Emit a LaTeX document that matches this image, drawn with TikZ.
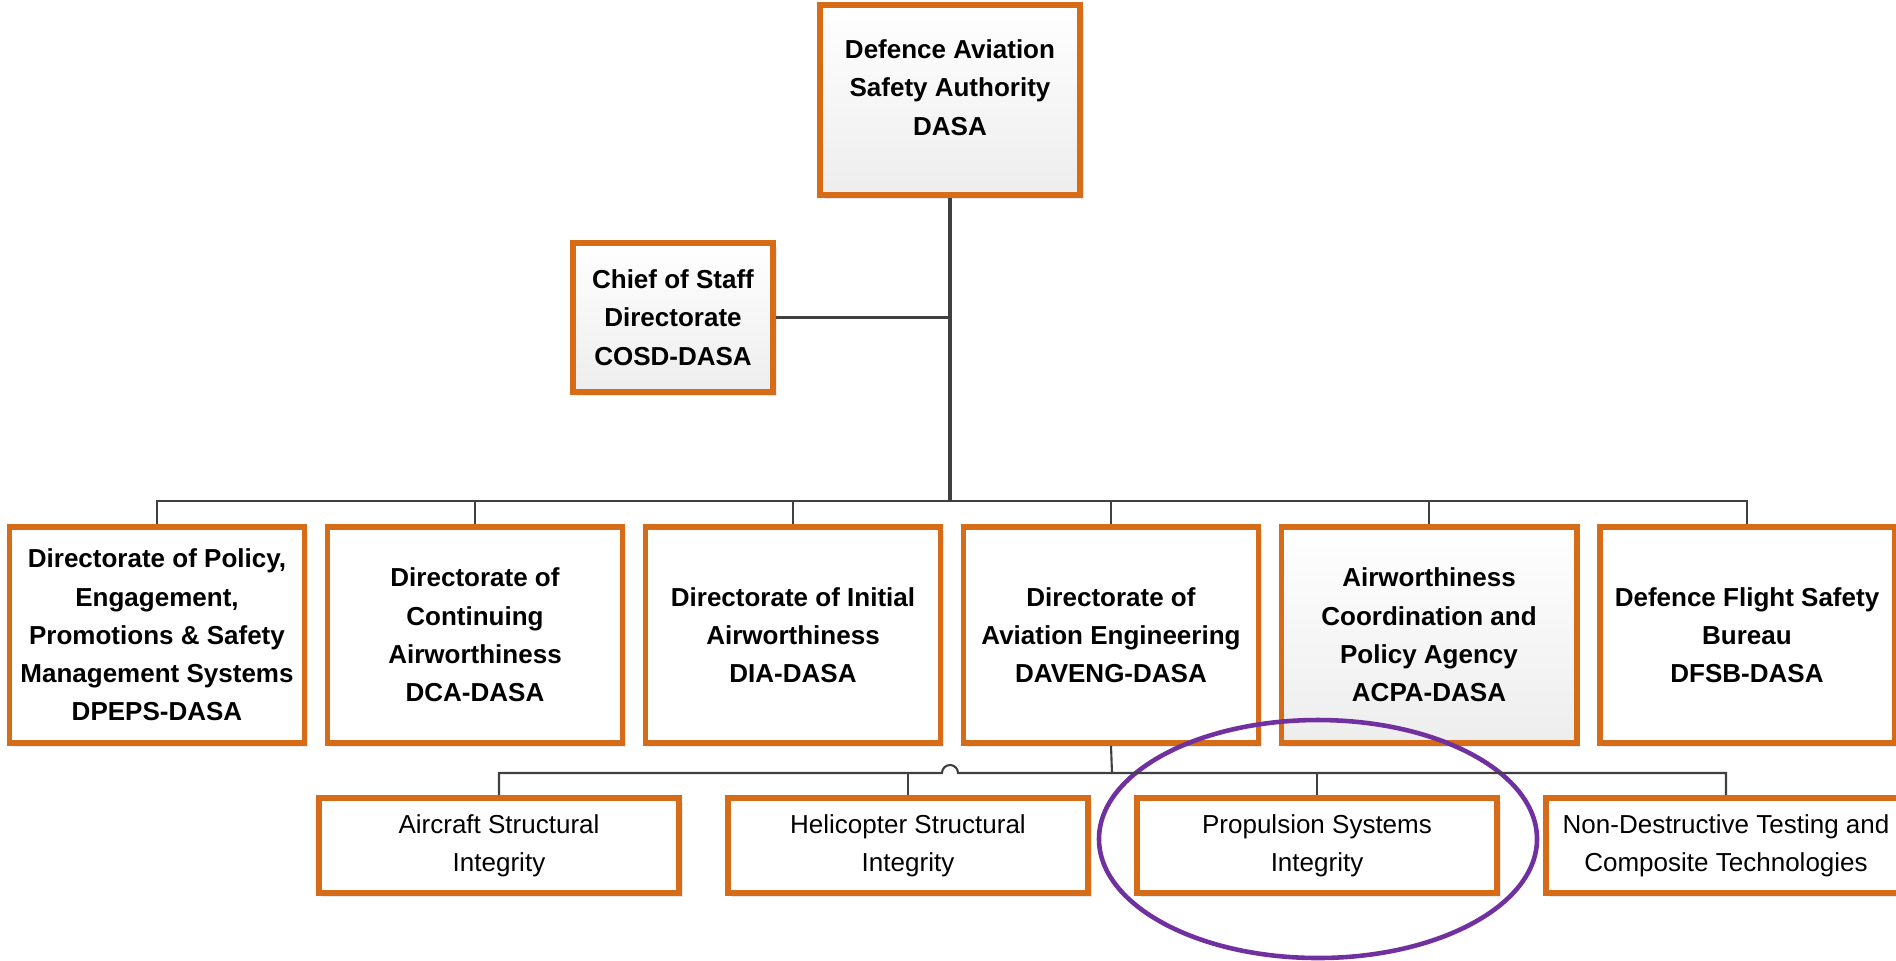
\documentclass[tikz,border=0pt]{standalone}
\usepackage{fontspec}
\setmainfont{Liberation Sans}
\usepackage{tikz}
\usetikzlibrary{positioning}
\usetikzlibrary{shapes,arrows,shadows}
\definecolor{dasaorange}{RGB}{214,108,24}
\definecolor{linegrey}{RGB}{64,64,64}
\definecolor{ringpurple}{RGB}{112,48,160}
\tikzset{
block/.style = {draw=dasaorange, line width=1.7pt, fill=white, rectangle, align=center, inner sep=0pt,
  minimum width=2.95cm, minimum height=2.16cm, font=\fontsize{7.4}{10.9}\selectfont\bfseries,
  drop shadow={opacity=0.18, shadow xshift=0.035cm, shadow yshift=-0.035cm}},
greyblock/.style = {block, top color=white, bottom color=black!7},
unit/.style = {block, minimum width=3.6cm, minimum height=0.95cm, font=\fontsize{7.4}{10.7}\selectfont},
tmp/.style  = {coordinate},
wire/.style = {draw=linegrey, line width=0.6pt},
trunk/.style = {wire, line width=0.9pt},
ring/.style = {draw=ringpurple, line width=1.3pt, ellipse, inner sep=0pt}
}
\begin{document}
\begin{tikzpicture}[auto, node distance=3.18cm]
    \useasboundingbox (0,0) rectangle (18.96,-9.60);
    % We start by placing the blocks
    \node [greyblock, minimum width=2.6cm, minimum height=1.9cm, text depth=0.25cm] at (9.50,-1.00) (dasa) {Defence Aviation\\Safety Authority\\DASA};
    \node [greyblock, minimum width=2.0cm, minimum height=1.49cm] at (6.73,-3.175) (cosd) {Chief of Staff\\Directorate\\COSD-DASA};
    \node [block] at (1.57,-6.35) (dpeps) {Directorate of Policy,\\Engagement,\\Promotions \& Safety\\Management Systems\\DPEPS-DASA};
    \node [block, right of=dpeps] (dca) {Directorate of\\Continuing\\Airworthiness\\DCA-DASA};
    \node [block, right of=dca] (dia) {Directorate of Initial\\Airworthiness\\DIA-DASA};
    \node [block, right of=dia] (daveng) {Directorate of\\Aviation Engineering\\DAVENG-DASA};
    \node [greyblock, right of=daveng] (acpa) {Airworthiness\\Coordination and\\Policy Agency\\ACPA-DASA};
    \node [block, right of=acpa] (dfsb) {Defence Flight Safety\\Bureau\\DFSB-DASA};
    \node [unit] at (4.99,-8.455) (asi) {Aircraft Structural\\Integrity};
    \node [unit, right of=asi, node distance=4.09cm] (hsi) {Helicopter Structural\\Integrity};
    \node [unit, right of=hsi, node distance=4.09cm] (psi) {Propulsion Systems\\Integrity};
    \node [unit, right of=psi, node distance=4.09cm] (ndt) {Non-Destructive Testing and\\Composite Technologies};
    \node [tmp] at (9.50,-5.01) (bus) {};
    \node [tmp] at (11.12,-7.73) (bus2) {};
    \node [tmp] at (9.50,-7.73) (hop) {};
    \node [ring, minimum width=4.38cm, minimum height=2.38cm] at (13.18,-8.39) (circ) {};

    % Once the nodes are placed, connecting them is easy.
    \draw [trunk] (dasa.south) -- (bus);
    \draw [wire] (cosd.east) -- (cosd.east -| dasa.south);
    \draw [wire] (dpeps.north) |- (bus);
    \draw [wire] (dca.north) |- (bus);
    \draw [wire] (dia.north) |- (bus);
    \draw [wire] (daveng.north) |- (bus);
    \draw [wire] (acpa.north) |- (bus);
    \draw [wire] (dfsb.north) |- (bus);
    \draw [wire] (daveng.south) -- (bus2);
    \draw [wire] (asi.north) |- ([xshift=-0.08cm]hop) arc [start angle=180, end angle=0, radius=0.08cm] -- (ndt.north |- bus2) -- (ndt.north);
    \draw [wire] (hsi.north) -- (hsi.north |- bus2);
    \draw [wire] (psi.north) -- (psi.north |- bus2);
\end{tikzpicture}
\end{document}
